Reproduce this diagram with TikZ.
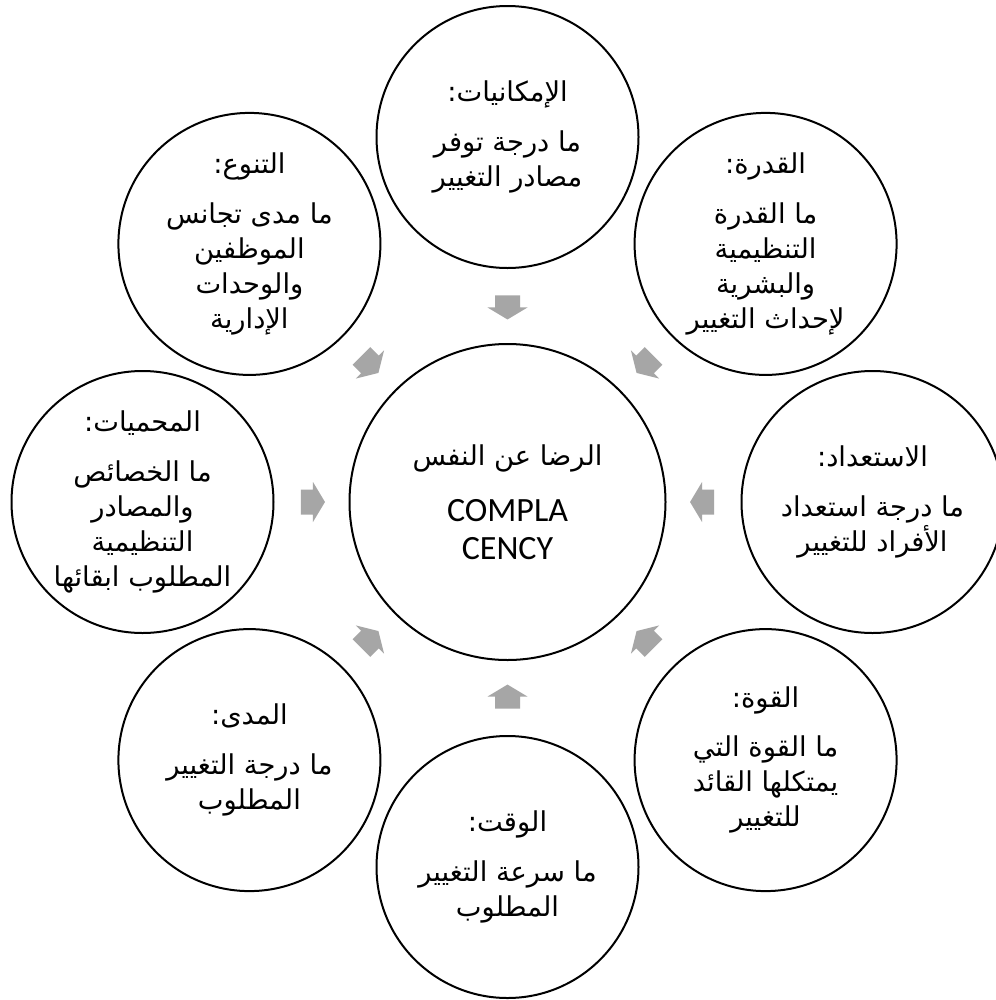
\documentclass[tikz,border=0pt]{standalone}
\usepackage{fontspec}
\usetikzlibrary{calc}
\TeXXeTstate=1
\newfontfamily\arabicfont[Script=Arabic]{DejaVu Sans}
\newfontfamily\latinfont{Carlito}
\newcommand{\artext}[1]{{\arabicfont\beginR #1\endR}}
\definecolor{arrowgray}{HTML}{A6A6A6}
\begin{document}
\begin{tikzpicture}[x=0.75pt,y=-0.75pt,
  ring/.style={circle, draw=black, line width=1.5pt, minimum size=196.5pt,
    inner sep=0pt, align=center, font=\fontsize{20.5}{26.25}\selectfont},
  hub/.style={circle, draw=black, line width=1.5pt, minimum size=237pt,
    inner sep=0pt, align=center, font=\fontsize{25.5}{28.5}\selectfont},
  blockarrow/.style={fill=arrowgray, draw=none}]
\useasboundingbox (0,0) rectangle (996,1000);
\fill[white] (0,0) rectangle (996,1000);

\node[hub] (c) at (507.5,502) {{\fontsize{20.5}{26}\selectfont\artext{الرضا عن النفس}}\\[13.5pt]
  {\latinfont COMPLA}\\{\latinfont CENCY}};

% outer circles, visual angle a
\node[ring] (n90) at ($(c)+(-90:365)$) {\artext{الإمكانيات:}\\[11pt]\artext{ما درجة توفر}\\\artext{مصادر التغيير}};
\node[ring] (n45) at ($(c)+(-45:365)$) {\artext{القدرة:}\\[11pt]\artext{ما القدرة}\\\artext{التنظيمية}\\\artext{والبشرية}\\\artext{لإحداث التغيير}};
\node[ring] (n0) at ($(c)+(0:365)$) {\artext{الاستعداد:}\\[11pt]\artext{ما درجة استعداد}\\\artext{الأفراد للتغيير}};
\node[ring] (n315) at ($(c)+(45:365)$) {\artext{القوة:}\\[11pt]\artext{ما القوة التي}\\\artext{يمتكلها القائد}\\\artext{للتغيير}};
\node[ring] (n270) at ($(c)+(90:365)$) {\artext{الوقت:}\\[11pt]\artext{ما سرعة التغيير}\\\artext{المطلوب}};
\node[ring] (n225) at ($(c)+(135:365)$) {\artext{المدى:}\\[11pt]\artext{ما درجة التغيير}\\\artext{المطلوب}};
\node[ring] (n180) at ($(c)+(180:365)$) {\artext{المحميات:}\\[11pt]\artext{ما الخصائص}\\\artext{والمصادر}\\\artext{التنظيمية}\\\artext{المطلوب ابقائها}};
\node[ring] (n135) at ($(c)+(-135:365)$) {\artext{التنوع:}\\[11pt]\artext{ما مدى تجانس}\\\artext{الموظفين}\\\artext{والوحدات}\\\artext{الإدارية}};

% block arrows pointing from each outer circle toward the centre
\foreach \a in {0,45,...,315} {
  \fill[blockarrow, shift={($(c)!0.533!(n\a)$)}, rotate=\a+180]
    (-12,-12.5) -- (0,-12.5) -- (0,-20) -- (12,0) -- (0,20) -- (0,12.5) -- (-12,12.5) -- cycle;
}
\end{tikzpicture}
\end{document}
